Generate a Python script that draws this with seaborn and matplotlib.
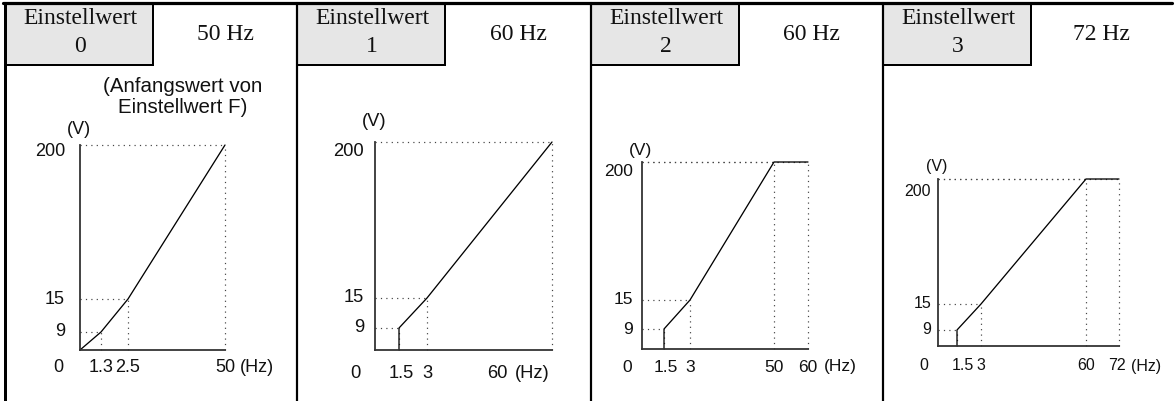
import numpy as np
import pandas as pd
import matplotlib
matplotlib.use("Agg")
import matplotlib.pyplot as plt
from matplotlib.patches import Rectangle
from matplotlib.lines import Line2D
from matplotlib.transforms import Affine2D
import seaborn as sns

# ---- data ---------------------------------------------------------------
settings = ["0", "1", "2", "3"]
base_freq_labels = ["50 Hz", "60 Hz", "60 Hz", "72 Hz"]

# V/f characteristic corner points: output frequency (Hz) and voltage (V)
freq_0 = [0, 1.3, 2.5, 50]
volt_0 = [0, 9, 15, 200]
freq_1 = [1.5, 1.5, 3, 60]
volt_1 = [0, 9, 15, 200]
freq_2 = [1.5, 1.5, 3, 50, 60]
volt_2 = [0, 9, 15, 200, 200]
freq_3 = [1.5, 1.5, 3, 60, 72]
volt_3 = [0, 9, 15, 200, 200]

# labelled values on the frequency and voltage axes
freq_ticks_0 = [1.3, 2.5, 50]
freq_ticks_1 = [1.5, 3, 60]
freq_ticks_2 = [1.5, 3, 50, 60]
freq_ticks_3 = [1.5, 3, 60, 72]
volt_ticks = [9, 15, 200]

note_0 = "(Anfangswert von\nEinstellwert F)"

curves = [(freq_0, volt_0), (freq_1, volt_1), (freq_2, volt_2), (freq_3, volt_3)]
freq_ticks = [freq_ticks_0, freq_ticks_1, freq_ticks_2, freq_ticks_3]

# ---- layout (pixels, origin top-left) -----------------------------------
W, H = 1176, 401
sep_x = [5, 297, 591, 883]          # panel separators
box_w, head_bottom = 148, 65
# schematic (non-proportional) axes: pixel position of 0 and each labelled value
x_px = [[80, 101, 128, 225],
        [375, 399, 427, 552],
        [642, 664, 690, 774, 808],
        [938, 957, 981, 1086, 1119]]
y_px = [[350, 332, 299, 145],
        [350, 328, 298, 142],
        [349, 329, 300, 162],
        [346, 330, 304, 179]]
tick_size = [13, 13.2, 12.5, 11.5]
xlab_dy = [17, 23, 18, 20]          # x labels below the axis
zero_dx = [-22, -20, -15, -14]      # "0" label left of the origin
ylab_pad = [15, 11, 9, 7]
top_lab_dy = [6, 10, 9, 12]         # "200" sits a little under its line
vunit_dy = [15, 21, 11, 13]
last_dx = [0, -55, 0, -2]           # horizontal shift of the last frequency label
hz_gap = [32, 35, 32, 29]
first_dx = [0, 2, 2, 6]             # small nudge of the first frequency labels

sns.set_theme(style="white")
plt.rcParams["font.family"] = ["Liberation Sans", "DejaVu Sans"]

fig = plt.figure(figsize=(W / 100, H / 100), dpi=100)
fig.patch.set_facecolor("white")
px = Affine2D().scale(1 / W, -1 / H).translate(0, 1) + fig.transFigure
PT = 72 / 100  # points per pixel

# table frame
fig.add_artist(Line2D([3, 1172], [3, 3], transform=px, color="black", lw=3.2 * PT))
for i, x in enumerate(sep_x):
    fig.add_artist(Line2D([x, x], [3, H], transform=px, color="black",
                          lw=(3 if i == 0 else 2.2) * PT))
    fig.add_artist(Rectangle((x, 3), box_w, head_bottom - 3, transform=px,
                             facecolor="#e6e6e6", edgecolor="black", lw=2 * PT))
    fig.text(x + box_w / 2 + 1, 18, "Einstellwert", transform=px, ha="center",
             va="center", family="Liberation Serif", fontsize=17, color="#111")
    fig.text(x + box_w / 2 + 1, 46, settings[i], transform=px, ha="center",
             va="center", family="Liberation Serif", fontsize=17, color="#111")
    nxt = sep_x[i + 1] if i + 1 < len(sep_x) else 1172
    fig.text((x + box_w + nxt) / 2, 35, base_freq_labels[i], transform=px,
             ha="center", va="center", family="Liberation Serif", fontsize=17,
             color="#111")

fig.text(183, 97, note_0, transform=px, ha="center", va="center",
         fontsize=14.8, linespacing=1.1, color="#111")


def piecewise(vals, fracs):
    vals = np.asarray(vals, float)
    fracs = np.asarray(fracs, float)

    def fwd(v):
        return np.interp(v, vals, fracs)

    def inv(f):
        return np.interp(f, fracs, vals)

    return fwd, inv


for i, ((f, v), ft) in enumerate(zip(curves, freq_ticks)):
    xp, yp = np.array(x_px[i], float), np.array(y_px[i], float)
    ax = fig.add_axes([xp[0] / W, 1 - yp[0] / H, (xp[-1] - xp[0]) / W,
                       (yp[0] - yp[-1]) / H])
    ax.set_facecolor("none")
    xvals = [0] + ft
    yvals = [0] + volt_ticks
    ax.set_xscale("function", functions=piecewise(xvals, (xp - xp[0]) / (xp[-1] - xp[0])))
    ax.set_yscale("function", functions=piecewise(yvals, (yp[0] - yp) / (yp[0] - yp[-1])))
    ax.set_xlim(0, max(ft))
    ax.set_ylim(0, 200)
    ax.set_xticks([])
    ax.set_yticks([])
    for s in ("top", "right"):
        ax.spines[s].set_visible(False)
    for s in ("left", "bottom"):
        ax.spines[s].set_color("#333333")
        ax.spines[s].set_linewidth(1.8 * PT)

    # dotted guides from each corner point to both axes
    guide = dict(color="#444444", lw=1.2 * PT, ls=(0, (1, 3.5)), clip_on=False)
    for fx, vy in zip(f, v):
        if vy > 0:
            ax.plot([0, fx], [vy, vy], **guide)
            ax.plot([fx, fx], [0, vy], **guide)

    df = pd.DataFrame({"Frequenz": f, "Spannung": v})
    sns.lineplot(data=df, x="Frequenz", y="Spannung", ax=ax, sort=False,
                 estimator=None, color="black", lw=1.3 * PT, clip_on=False)
    ax.set_xlabel("")
    ax.set_ylabel("")

    fs = tick_size[i]
    lab = dict(textcoords="offset pixels", fontsize=fs, color="#111",
               va="center", annotation_clip=False)
    for k, t in enumerate(ft):
        if k == len(ft) - 1:
            dx = last_dx[i]
        elif k == 0:
            dx = first_dx[i]
        else:
            dx = 0
        ax.annotate(f"{t:g}", xy=(t, 0), xycoords=("data", "axes fraction"),
                    xytext=(dx, -xlab_dy[i]), ha="center", **lab)
    ax.annotate("(Hz)", xy=(ft[-1], 0), xycoords=("data", "axes fraction"),
                xytext=(last_dx[i] + hz_gap[i], -xlab_dy[i]), ha="center", **lab)
    ax.annotate("0", xy=(0, 0), xycoords="axes fraction",
                xytext=(zero_dx[i], -xlab_dy[i]), ha="center", **lab)
    for t in volt_ticks:
        dy = top_lab_dy[i] if t == 200 else 0
        ax.annotate(f"{t:g}", xy=(0, t), xycoords=("axes fraction", "data"),
                    xytext=(-ylab_pad[i], -dy), ha="right", **lab)
    ax.annotate("(V)", xy=(0, 1), xycoords="axes fraction",
                xytext=(-1, vunit_dy[i]), ha="center", **lab)

fig.savefig("out.png", dpi=100)
